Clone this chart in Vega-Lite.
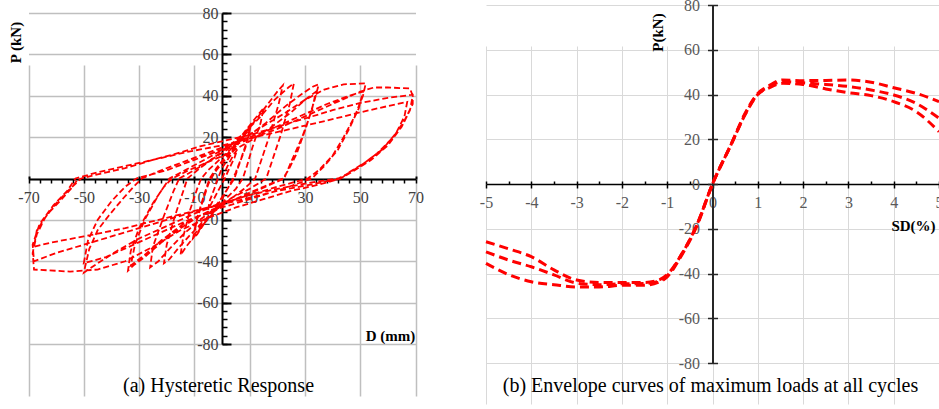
{
  "$schema": "https://vega.github.io/schema/vega-lite/v6.json",
  "width": 939,
  "height": 409,
  "autosize": {"type": "none"},
  "padding": 0,
  "background": "white",
  "config": {
    "view": {"stroke": null},
    "axis": {"labelFont": "Liberation Serif", "titleFont": "Liberation Serif", "labelFlush": false, "labelOverlap": false}
  },
  "datasets": {
    "hyst1": [
      {"i":0,"d":0,"p":0},{"i":1,"d":2,"p":6},{"i":2,"d":4,"p":11},{"i":3,"d":5.5,"p":14},{"i":4,"d":4.5,"p":10},{"i":5,"d":2,"p":3},{"i":6,"d":1,"p":0},{"i":7,"d":-1,"p":-5},{"i":8,"d":-3,"p":-10},{"i":9,"d":-5,"p":-15},
      {"i":10,"d":-4.5,"p":-11},{"i":11,"d":-2.5,"p":-4},{"i":12,"d":-1.5,"p":0},{"i":13,"d":0,"p":5},{"i":14,"d":3,"p":11},{"i":15,"d":6,"p":17},{"i":16,"d":9,"p":23},{"i":17,"d":10.5,"p":26},{"i":18,"d":9.5,"p":20},{"i":19,"d":7,"p":10},
      {"i":20,"d":5,"p":3},{"i":21,"d":4,"p":0},{"i":22,"d":2,"p":-5},{"i":23,"d":0,"p":-10},{"i":24,"d":-3,"p":-15},{"i":25,"d":-6,"p":-21},{"i":26,"d":-9,"p":-27},{"i":27,"d":-10.5,"p":-29},{"i":28,"d":-9.5,"p":-22},{"i":29,"d":-7,"p":-11},
      {"i":30,"d":-5,"p":-3},{"i":31,"d":-4,"p":0},{"i":32,"d":-2,"p":4},{"i":33,"d":1,"p":9},{"i":34,"d":4,"p":14},{"i":35,"d":7,"p":19},{"i":36,"d":10,"p":24},{"i":37,"d":8.5,"p":15},{"i":38,"d":6,"p":6},{"i":39,"d":4.5,"p":0},
      {"i":40,"d":2,"p":-5},{"i":41,"d":-1,"p":-11},{"i":42,"d":-4,"p":-16},{"i":43,"d":-7,"p":-22},{"i":44,"d":-10,"p":-27},{"i":45,"d":-9,"p":-19},{"i":46,"d":-6.5,"p":-8},{"i":47,"d":-4.5,"p":0},{"i":48,"d":-2,"p":5},{"i":49,"d":1,"p":10},
      {"i":50,"d":5,"p":17},{"i":51,"d":9,"p":24},{"i":52,"d":12,"p":29},{"i":53,"d":15,"p":34},{"i":54,"d":14,"p":27},{"i":55,"d":11,"p":15},{"i":56,"d":9,"p":6},{"i":57,"d":7.5,"p":0},{"i":58,"d":5,"p":-5},{"i":59,"d":2,"p":-9},
      {"i":60,"d":-2,"p":-15},{"i":61,"d":-6,"p":-21},{"i":62,"d":-10,"p":-28},{"i":63,"d":-13,"p":-33},{"i":64,"d":-15,"p":-37},{"i":65,"d":-14,"p":-28},{"i":66,"d":-11.5,"p":-15},{"i":67,"d":-9,"p":-5},{"i":68,"d":-7.5,"p":0},{"i":69,"d":-5,"p":4},
      {"i":70,"d":-1,"p":9},{"i":71,"d":3,"p":14},{"i":72,"d":8,"p":21},{"i":73,"d":12,"p":28},{"i":74,"d":16,"p":35},{"i":75,"d":20,"p":42},{"i":76,"d":22,"p":45},{"i":77,"d":20.5,"p":36},{"i":78,"d":17,"p":20},{"i":79,"d":14,"p":8},
      {"i":80,"d":12,"p":0},{"i":81,"d":8,"p":-5},{"i":82,"d":3,"p":-10},{"i":83,"d":-2,"p":-15},{"i":84,"d":-7,"p":-21},{"i":85,"d":-12,"p":-28},{"i":86,"d":-16,"p":-34},{"i":87,"d":-19,"p":-39},{"i":88,"d":-21,"p":-41},{"i":89,"d":-20,"p":-32},
      {"i":90,"d":-17,"p":-18},{"i":91,"d":-14,"p":-6},{"i":92,"d":-12.5,"p":0},{"i":93,"d":-8,"p":5},{"i":94,"d":-3,"p":10},{"i":95,"d":2,"p":15},{"i":96,"d":8,"p":22},{"i":97,"d":14,"p":30},{"i":98,"d":19,"p":38},{"i":99,"d":24,"p":44},
      {"i":100,"d":26,"p":46},{"i":101,"d":24.5,"p":36},{"i":102,"d":21,"p":20},{"i":103,"d":18,"p":8},{"i":104,"d":16,"p":0},{"i":105,"d":10,"p":-5},{"i":106,"d":4,"p":-9},{"i":107,"d":-2,"p":-14},{"i":108,"d":-8,"p":-20},{"i":109,"d":-14,"p":-27},
      {"i":110,"d":-19,"p":-34},{"i":111,"d":-23,"p":-40},{"i":112,"d":-26,"p":-43},{"i":113,"d":-25,"p":-33},{"i":114,"d":-21,"p":-18},{"i":115,"d":-17.5,"p":-6},{"i":116,"d":-15.5,"p":0}
    ],
    "hyst2": [
      {"i":0,"d":-15.5,"p":0},{"i":1,"d":-10,"p":4},{"i":2,"d":-4,"p":9},{"i":3,"d":2,"p":14},{"i":4,"d":9,"p":20},{"i":5,"d":16,"p":27},{"i":6,"d":23,"p":35},{"i":7,"d":29,"p":41},{"i":8,"d":33,"p":44.5},{"i":9,"d":35,"p":45.5},
      {"i":10,"d":33.5,"p":38},{"i":11,"d":30.5,"p":25},{"i":12,"d":27,"p":12},{"i":13,"d":24,"p":4},{"i":14,"d":22,"p":0},{"i":15,"d":15,"p":-4},{"i":16,"d":8,"p":-8},{"i":17,"d":0,"p":-13},{"i":18,"d":-8,"p":-18},{"i":19,"d":-15,"p":-24},
      {"i":20,"d":-22,"p":-31},{"i":21,"d":-28,"p":-38},{"i":22,"d":-32,"p":-42},{"i":23,"d":-34,"p":-44.5},{"i":24,"d":-33,"p":-35},{"i":25,"d":-30,"p":-24},{"i":26,"d":-25,"p":-12},{"i":27,"d":-21,"p":-4},{"i":28,"d":-18,"p":0},{"i":29,"d":-12,"p":4},
      {"i":30,"d":-5,"p":8},{"i":31,"d":2,"p":12},{"i":32,"d":10,"p":18},{"i":33,"d":18,"p":25},{"i":34,"d":25,"p":32},{"i":35,"d":30,"p":38},{"i":36,"d":34,"p":42},{"i":37,"d":32.5,"p":33},{"i":38,"d":29,"p":20},{"i":39,"d":25,"p":8},
      {"i":40,"d":22.5,"p":0},{"i":41,"d":14,"p":-5},{"i":42,"d":5,"p":-10},{"i":43,"d":-5,"p":-16},{"i":44,"d":-14,"p":-22},{"i":45,"d":-22,"p":-30},{"i":46,"d":-28,"p":-37},{"i":47,"d":-33,"p":-42},{"i":48,"d":-31.5,"p":-32},{"i":49,"d":-28,"p":-20},
      {"i":50,"d":-23,"p":-8},{"i":51,"d":-19,"p":0},{"i":52,"d":-12,"p":5},{"i":53,"d":-5,"p":10},{"i":54,"d":3,"p":16},{"i":55,"d":12,"p":23},{"i":56,"d":22,"p":31},{"i":57,"d":30,"p":38},{"i":58,"d":37,"p":43},{"i":59,"d":44,"p":45.5},
      {"i":60,"d":52,"p":46},{"i":61,"d":51,"p":40},{"i":62,"d":48,"p":30},{"i":63,"d":44,"p":20},{"i":64,"d":40,"p":11},{"i":65,"d":35,"p":4},{"i":66,"d":31,"p":0},{"i":67,"d":20,"p":-4},{"i":68,"d":10,"p":-8},{"i":69,"d":0,"p":-12},
      {"i":70,"d":-10,"p":-17},{"i":71,"d":-20,"p":-23},{"i":72,"d":-30,"p":-29},{"i":73,"d":-38,"p":-35},{"i":74,"d":-45,"p":-41},{"i":75,"d":-50,"p":-45.5},{"i":76,"d":-48,"p":-34},{"i":77,"d":-45,"p":-25},{"i":78,"d":-41,"p":-18},{"i":79,"d":-36,"p":-10},
      {"i":80,"d":-32,"p":-4},{"i":81,"d":-29,"p":0},{"i":82,"d":-22,"p":4},{"i":83,"d":-12,"p":9},{"i":84,"d":-2,"p":14},{"i":85,"d":8,"p":19},{"i":86,"d":18,"p":24},{"i":87,"d":28,"p":30},{"i":88,"d":38,"p":36},{"i":89,"d":46,"p":40},
      {"i":90,"d":51,"p":42},{"i":91,"d":49.5,"p":34},{"i":92,"d":46,"p":24},{"i":93,"d":42,"p":14},{"i":94,"d":37,"p":6},{"i":95,"d":32.5,"p":0},{"i":96,"d":22,"p":-5},{"i":97,"d":10,"p":-10},{"i":98,"d":0,"p":-14},{"i":99,"d":-12,"p":-20},
      {"i":100,"d":-22,"p":-26},{"i":101,"d":-32,"p":-32},{"i":102,"d":-42,"p":-38},{"i":103,"d":-50,"p":-41},{"i":104,"d":-48.5,"p":-30},{"i":105,"d":-45,"p":-20},{"i":106,"d":-40,"p":-11},{"i":107,"d":-35,"p":-4},{"i":108,"d":-31,"p":0},{"i":109,"d":-20,"p":4},
      {"i":110,"d":-10,"p":9},{"i":111,"d":0,"p":14},{"i":112,"d":10,"p":19},{"i":113,"d":20,"p":24},{"i":114,"d":30,"p":30},{"i":115,"d":40,"p":36},{"i":116,"d":50,"p":42},{"i":117,"d":55,"p":44},{"i":118,"d":60,"p":44},{"i":119,"d":68,"p":43.5},
      {"i":120,"d":69,"p":40},{"i":121,"d":68,"p":33},{"i":122,"d":65,"p":25},{"i":123,"d":60,"p":16},{"i":124,"d":54,"p":9},{"i":125,"d":48,"p":4},{"i":126,"d":43,"p":0},{"i":127,"d":35,"p":-3},{"i":128,"d":25,"p":-6},{"i":129,"d":15,"p":-10},
      {"i":130,"d":5,"p":-14},{"i":131,"d":-5,"p":-19},{"i":132,"d":-15,"p":-25},{"i":133,"d":-25,"p":-33},{"i":134,"d":-35,"p":-40},{"i":135,"d":-45,"p":-44},{"i":136,"d":-55,"p":-45},{"i":137,"d":-68,"p":-44},{"i":138,"d":-68.5,"p":-36},{"i":139,"d":-67,"p":-27},
      {"i":140,"d":-64,"p":-19},{"i":141,"d":-60,"p":-12},{"i":142,"d":-55,"p":-5},{"i":143,"d":-51,"p":0},{"i":144,"d":-45,"p":2},{"i":145,"d":-35,"p":5},{"i":146,"d":-25,"p":9},{"i":147,"d":-15,"p":12.6},{"i":148,"d":-8,"p":15.5},{"i":149,"d":0,"p":18},
      {"i":150,"d":10,"p":21},{"i":151,"d":20,"p":25},{"i":152,"d":30,"p":29},{"i":153,"d":40,"p":33},{"i":154,"d":50,"p":36.5},{"i":155,"d":60,"p":39},{"i":156,"d":69,"p":40.5},{"i":157,"d":69,"p":36},{"i":158,"d":66,"p":28},{"i":159,"d":62,"p":20},
      {"i":160,"d":56,"p":12},{"i":161,"d":50,"p":6},{"i":162,"d":45,"p":2},{"i":163,"d":42,"p":0},{"i":164,"d":32,"p":-2},{"i":165,"d":20,"p":-5},{"i":166,"d":10,"p":-8},{"i":167,"d":0,"p":-12},{"i":168,"d":-10,"p":-16},{"i":169,"d":-20,"p":-20},
      {"i":170,"d":-30,"p":-24},{"i":171,"d":-40,"p":-28},{"i":172,"d":-50,"p":-32},{"i":173,"d":-60,"p":-36},{"i":174,"d":-68,"p":-40},{"i":175,"d":-68.5,"p":-32},{"i":176,"d":-66,"p":-22},{"i":177,"d":-61,"p":-13},{"i":178,"d":-56,"p":-6},{"i":179,"d":-53,"p":0},
      {"i":180,"d":-45,"p":3},{"i":181,"d":-35,"p":6},{"i":182,"d":-25,"p":9},{"i":183,"d":-12,"p":13},{"i":184,"d":0,"p":16},{"i":185,"d":12,"p":20},{"i":186,"d":25,"p":24},{"i":187,"d":38,"p":28},{"i":188,"d":50,"p":32},{"i":189,"d":60,"p":35},
      {"i":190,"d":67,"p":37},{"i":191,"d":66,"p":30},{"i":192,"d":63,"p":22},{"i":193,"d":58,"p":14},{"i":194,"d":52,"p":8},{"i":195,"d":46,"p":3},{"i":196,"d":43,"p":0},{"i":197,"d":32,"p":-3},{"i":198,"d":20,"p":-6},{"i":199,"d":8,"p":-10},
      {"i":200,"d":-5,"p":-14},{"i":201,"d":-20,"p":-19},{"i":202,"d":-35,"p":-24},{"i":203,"d":-50,"p":-28},{"i":204,"d":-62,"p":-31},{"i":205,"d":-68,"p":-33},{"i":206,"d":-67,"p":-25},{"i":207,"d":-63,"p":-17},{"i":208,"d":-58,"p":-10},{"i":209,"d":-54,"p":-4},
      {"i":210,"d":-52,"p":0}
    ],
    "env1": [
      {"c":1,"sd":-5,"p":-35.5},{"c":1,"sd":-4.5,"p":-40.5},{"c":1,"sd":-4,"p":-43.7},{"c":1,"sd":-3.5,"p":-45},{"c":1,"sd":-3,"p":-46},{"c":1,"sd":-2.5,"p":-46},{"c":1,"sd":-2,"p":-45.3},{"c":1,"sd":-1.5,"p":-45.2},{"c":1,"sd":-1.2,"p":-44},{"c":1,"sd":-1,"p":-41.5},{"c":1,"sd":-0.7,"p":-32.5},{"c":1,"sd":-0.35,"p":-19},{"c":1,"sd":0,"p":0},
      {"c":1,"sd":0.42,"p":18.2},{"c":1,"sd":0.72,"p":31.6},{"c":1,"sd":1,"p":40.5},{"c":1,"sd":1.25,"p":44},{"c":1,"sd":1.55,"p":46.5},{"c":1,"sd":2,"p":46.2},{"c":1,"sd":2.5,"p":46.3},{"c":1,"sd":3,"p":46.5},{"c":1,"sd":3.5,"p":45.5},{"c":1,"sd":4,"p":43},{"c":1,"sd":4.5,"p":40.5},{"c":1,"sd":5,"p":36.8}
    ],
    "env2": [
      {"c":2,"sd":-5,"p":-30.3},{"c":2,"sd":-4.5,"p":-34},{"c":2,"sd":-4,"p":-37},{"c":2,"sd":-3.5,"p":-40.6},{"c":2,"sd":-3,"p":-44.3},{"c":2,"sd":-2.5,"p":-45},{"c":2,"sd":-2,"p":-44.6},{"c":2,"sd":-1.5,"p":-44.5},{"c":2,"sd":-1.2,"p":-43.5},{"c":2,"sd":-1,"p":-41},{"c":2,"sd":-0.7,"p":-32},{"c":2,"sd":-0.35,"p":-18.5},{"c":2,"sd":0,"p":0},
      {"c":2,"sd":0.42,"p":18},{"c":2,"sd":0.72,"p":31.2},{"c":2,"sd":1,"p":40.2},{"c":2,"sd":1.25,"p":43.5},{"c":2,"sd":1.55,"p":45.8},{"c":2,"sd":2,"p":45.2},{"c":2,"sd":2.5,"p":44.5},{"c":2,"sd":3,"p":43.6},{"c":2,"sd":3.5,"p":42},{"c":2,"sd":4,"p":39.8},{"c":2,"sd":4.5,"p":36},{"c":2,"sd":5,"p":29.4},
      {"c":3,"sd":-5,"p":-25.8},{"c":3,"sd":-4.5,"p":-29},{"c":3,"sd":-4,"p":-32.5},{"c":3,"sd":-3.5,"p":-38.4},{"c":3,"sd":-3,"p":-42.9},{"c":3,"sd":-2.5,"p":-44},{"c":3,"sd":-2,"p":-44},{"c":3,"sd":-1.5,"p":-44},{"c":3,"sd":-1.2,"p":-43},{"c":3,"sd":-1,"p":-40.5},{"c":3,"sd":-0.7,"p":-32},{"c":3,"sd":-0.35,"p":-18.5},{"c":3,"sd":0,"p":0},
      {"c":3,"sd":0.42,"p":18},{"c":3,"sd":0.72,"p":31},{"c":3,"sd":1,"p":40},{"c":3,"sd":1.25,"p":43},{"c":3,"sd":1.55,"p":45},{"c":3,"sd":2,"p":44.5},{"c":3,"sd":2.5,"p":42.5},{"c":3,"sd":3,"p":40.8},{"c":3,"sd":3.5,"p":39.5},{"c":3,"sd":4,"p":36.8},{"c":3,"sd":4.5,"p":32.3},{"c":3,"sd":5,"p":23.4}
    ]
  },
  "layer": [
    {
      "layer": [
        {
          "data": {"name": "hyst1"},
          "mark": {"type": "line", "color": "#ff0000", "strokeWidth": 1.8, "strokeDash": [6, 3], "interpolate": "linear"},
          "encoding": {
            "x": {"field": "d", "type": "quantitative", "scale": {"domain": [-70, 70], "range": [28.5, 415.5], "nice": false, "zero": false},
              "axis": {"orient": "bottom", "offset": -230, "values": [-70, -50, -30, -10, 10, 30, 50, 70], "grid": true, "gridColor": "#bfbfbf", "gridWidth": 1.5,
                "domainColor": "#000000", "domainWidth": 2, "tickColor": "#000000", "tickWidth": 2, "tickSize": -3, "labelPadding": 13,
                "labelFontSize": 16, "labelColor": "#404040", "labelExpr": "'' + datum.value",
                "title": "D (mm)", "titleX": 390, "titleY": 156, "titleAlign": "center", "titleBaseline": "middle", "titleAngle": 0,
                "titleFontWeight": "bold", "titleFontSize": 15, "titleColor": "#000000"}},
            "y": {"field": "p", "type": "quantitative", "scale": {"domain": [-80, 80], "range": [344, 13], "nice": false, "zero": false},
              "axis": {"orient": "left", "offset": -222, "values": [-80, -60, -40, -20, 0, 20, 40, 60, 80], "grid": true, "gridColor": "#bfbfbf", "gridWidth": 1.5,
                "domainColor": "#000000", "domainWidth": 2, "tickColor": "#000000", "tickWidth": 2, "tickSize": -9, "labelPadding": 13,
                "labelFontSize": 16, "labelColor": "#404040", "labelExpr": "'' + datum.value",
                "title": "P (kN)", "titleX": -207, "titleY": 42, "titleAlign": "center", "titleBaseline": "middle", "titleAngle": -90,
                "titleFontWeight": "bold", "titleFontSize": 15, "titleColor": "#000000"}},
            "order": {"field": "i", "type": "quantitative"}
          }
        },
        {
          "data": {"name": "hyst2"},
          "mark": {"type": "line", "color": "#ff0000", "strokeWidth": 1.8, "strokeDash": [6, 3], "interpolate": "linear"},
          "encoding": {
            "x": {"field": "d", "type": "quantitative", "scale": {"domain": [-70, 70], "range": [28.5, 415.5], "nice": false, "zero": false},
              "axis": {"orient": "bottom", "offset": -230, "values": [-70,-66,-62,-58,-54,-50,-46,-42,-38,-34,-30,-26,-22,-18,-14,-10,-6,-2,2,6,10,14,18,22,26,30,34,38,42,46,50,54,58,62,66,70],
                "grid": false, "domain": false, "labels": false, "tickColor": "#000000", "tickWidth": 1.5, "tickSize": 4,
                "title": "(a) Hysteretic Response", "titleX": 218, "titleY": 206, "titleAlign": "center", "titleBaseline": "middle", "titleAngle": 0,
                "titleFontWeight": "normal", "titleFontSize": 20, "titleColor": "#000000"}},
            "y": {"field": "p", "type": "quantitative", "scale": {"domain": [-80, 80], "range": [344, 13], "nice": false, "zero": false},
              "axis": {"orient": "left", "offset": -222, "values": [-80,-76,-72,-68,-64,-60,-56,-52,-48,-44,-40,-36,-32,-28,-24,-20,-16,-12,-8,-4,0,4,8,12,16,20,24,28,32,36,40,44,48,52,56,60,64,68,72,76,80],
                "grid": false, "domain": false, "labels": false, "tickColor": "#000000", "tickWidth": 1.5, "tickSize": -5, "title": null}},
            "order": {"field": "i", "type": "quantitative"}
          }
        }
      ],
      "resolve": {"axis": {"x": "independent", "y": "independent"}}
    },
    {
      "layer": [
        {
          "data": {"name": "env1"},
          "mark": {"type": "line", "color": "#ff0000", "strokeWidth": 3, "strokeDash": [9, 5], "interpolate": "monotone"},
          "encoding": {
            "x": {"field": "sd", "type": "quantitative", "scale": {"domain": [-5, 5], "range": [486, 939], "nice": false, "zero": false},
              "axis": {"orient": "bottom", "offset": -225, "values": [-5, -4, -3, -2, -1, 0, 1, 2, 3, 4, 5], "grid": true, "gridColor": "#d9d9d9", "gridWidth": 1,
                "domainColor": "#000000", "domainWidth": 1.5, "tickColor": "#000000", "tickWidth": 1.5, "tickSize": 4, "labelPadding": 6,
                "labelFontSize": 16, "labelColor": "#595959", "labelExpr": "'' + datum.value",
                "title": "SD(%)", "titleX": 913, "titleY": 41, "titleAlign": "center", "titleBaseline": "middle", "titleAngle": 0,
                "titleFontWeight": "bold", "titleFontSize": 15, "titleColor": "#000000"}},
            "y": {"field": "p", "type": "quantitative", "scale": {"domain": [-80, 80], "range": [363, 5], "nice": false, "zero": false},
              "axis": {"orient": "left", "offset": -712.5, "values": [-80, -60, -40, -20, 0, 20, 40, 60, 80], "grid": true, "gridColor": "#d9d9d9", "gridWidth": 1,
                "domainColor": "#262626", "domainWidth": 2, "tickColor": "#262626", "tickWidth": 1.5, "tickSize": 5, "labelPadding": 8,
                "labelFontSize": 16, "labelColor": "#595959", "labelExpr": "'' + datum.value",
                "title": "P(kN)", "titleX": -55.5, "titleY": 32, "titleAlign": "center", "titleBaseline": "middle", "titleAngle": -90,
                "titleFontWeight": "bold", "titleFontSize": 15, "titleColor": "#000000"}}
          }
        },
        {
          "data": {"name": "env2"},
          "mark": {"type": "line", "color": "#ff0000", "strokeWidth": 3, "strokeDash": [9, 5], "interpolate": "monotone"},
          "encoding": {
            "x": {"field": "sd", "type": "quantitative", "scale": {"domain": [-5, 5], "range": [486, 939], "nice": false, "zero": false},
              "axis": {"orient": "bottom", "offset": -225, "values": [-5,-4.5,-4,-3.5,-3,-2.5,-2,-1.5,-1,-0.5,0,0.5,1,1.5,2,2.5,3,3.5,4,4.5,5],
                "grid": false, "domain": false, "labels": false, "tickColor": "#000000", "tickWidth": 1.5, "tickSize": -3,
                "title": "(b) Envelope curves of maximum loads at all cycles", "titleX": 710, "titleY": 201, "titleAlign": "center", "titleBaseline": "middle", "titleAngle": 0,
                "titleFontWeight": "normal", "titleFontSize": 20, "titleColor": "#000000"}},
            "y": {"field": "p", "type": "quantitative", "scale": {"domain": [-80, 80], "range": [363, 5], "nice": false, "zero": false},
              "axis": {"orient": "left", "offset": -712.5, "values": [-80, -60, -40, -20, 0, 20, 40, 60, 80],
                "grid": false, "domain": false, "labels": false, "tickColor": "#262626", "tickWidth": 1.5, "tickSize": -5, "title": null}},
            "detail": {"field": "c", "type": "nominal"}
          }
        }
      ],
      "resolve": {"axis": {"x": "independent", "y": "independent"}}
    }
  ],
  "resolve": {"scale": {"x": "independent", "y": "independent"}, "axis": {"x": "independent", "y": "independent"}}
}
